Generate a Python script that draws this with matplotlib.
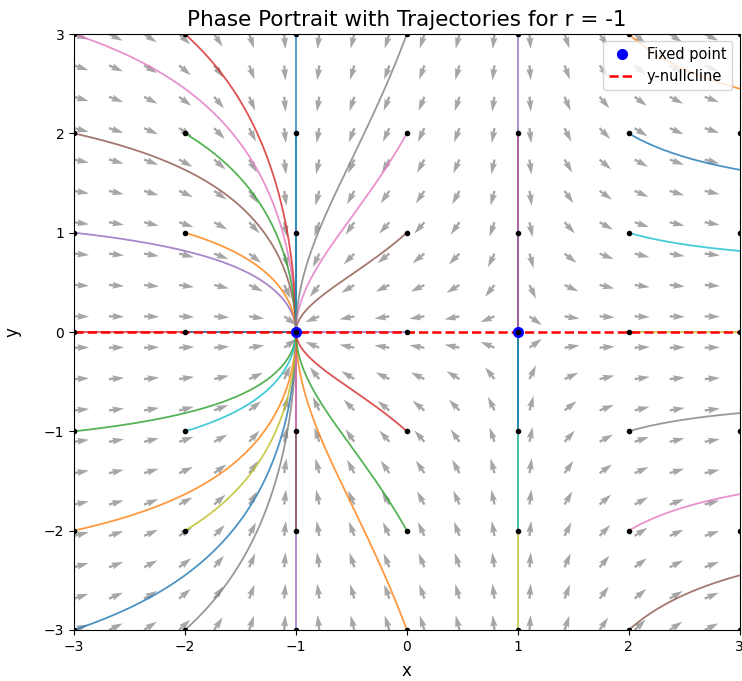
import numpy as np
import matplotlib
matplotlib.use("Agg")
import matplotlib.pyplot as plt

# parameters of the system  dx/dt = r + x^2,  dy/dt = -y
r = -1
fixed_x = [-1, 1]
fixed_y = [0, 0]
start_x = [-3, -2, -1, 0, 1, 2, 3]
start_y = [-3, -2, -1, 0, 1, 2, 3]
t_max = 10.0
dt = 0.01


def f(x, y):
    return r + x**2, -y


def trajectory(x0, y0):
    xs, ys = [x0], [y0]
    x, y = float(x0), float(y0)
    t = 0.0
    while t < t_max and abs(x) < 10:
        k1 = f(x, y)
        k2 = f(x + dt/2*k1[0], y + dt/2*k1[1])
        k3 = f(x + dt/2*k2[0], y + dt/2*k2[1])
        k4 = f(x + dt*k3[0], y + dt*k3[1])
        x = x + dt/6*(k1[0] + 2*k2[0] + 2*k3[0] + k4[0])
        y = y + dt/6*(k1[1] + 2*k2[1] + 2*k3[1] + k4[1])
        t += dt
        xs.append(x)
        ys.append(y)
    return xs, ys


fig, ax = plt.subplots(figsize=(7.42, 6.81), dpi=100)
fig.subplots_adjust(left=0.0997, right=0.997, top=0.950, bottom=0.0749)

# vector field (normalized arrows)
gx, gy = np.meshgrid(np.linspace(-3, 3, 20), np.linspace(-3, 3, 20))
u, v = f(gx, gy)
n = np.hypot(u, v)
n[n == 0] = 1
ax.quiver(gx, gy, u / n, v / n, color='gray', alpha=0.7, scale=44, width=0.0035)

# trajectories from integer grid points
for x0 in start_x:
    for y0 in start_y:
        xs, ys = trajectory(x0, y0)
        ax.plot(xs, ys, linewidth=1.3, alpha=0.8)
        ax.plot(x0, y0, 'ko', markersize=3, zorder=5)

ax.axhline(0, color='red', linestyle='--', linewidth=1.8, label='y-nullcline', zorder=3)
ax.plot(fixed_x, fixed_y, 'bo', markersize=7, linestyle='none', label='Fixed point', zorder=4)

ax.set_xlim(-3, 3)
ax.set_ylim(-3, 3)
ax.set_xlabel('x', fontsize=12, labelpad=6)
ax.set_ylabel('y', fontsize=12, labelpad=16)
ax.set_title('Phase Portrait with Trajectories for r = -1', fontsize=15.5)
h, l = ax.get_legend_handles_labels()
ax.legend(h[::-1], l[::-1], loc='upper right', fontsize=10.5, handlelength=1.8)

plt.savefig('out.png', dpi=100)
